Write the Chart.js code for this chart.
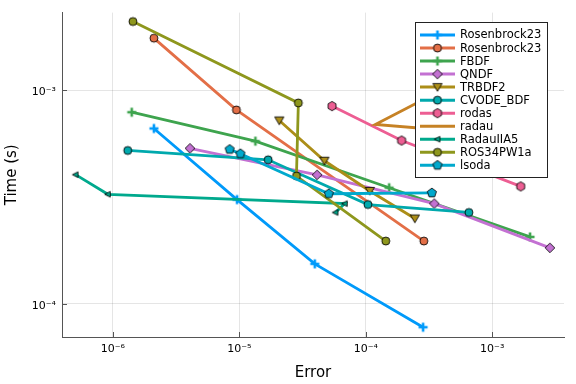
<!DOCTYPE html>
<html>
<head>
<meta charset="utf-8">
<script src="https://cdn.jsdelivr.net/npm/chart.js@4.4.0/dist/chart.umd.min.js"></script>
<style>
  html, body { margin: 0; padding: 0; background: #fff; }
  canvas { display: block; }
</style>
</head>
<body>
<canvas id="chart" width="576" height="384"></canvas>
<script>
// error vs run time for each solver
const rosenAErr  = [2.11e-6, 9.59e-6, 3.95e-5, 2.84e-4];
const rosenATime = [6.63e-4, 3.08e-4, 1.54e-4, 7.78e-5];
const rosenBErr  = [2.11e-6, 9.48e-6, 2.88e-4];
const rosenBTime = [1.755e-3, 8.1e-4, 1.97e-4];
const fbdfErr    = [1.41e-6, 1.34e-5, 1.53e-4, 1.99e-3];
const fbdfTime   = [7.9e-4, 5.78e-4, 3.5e-4, 2.06e-4];
const qndfErr    = [4.07e-6, 4.12e-5, 3.48e-4, 2.86e-3];
const qndfTime   = [5.35e-4, 4.02e-4, 2.95e-4, 1.83e-4];
const trbdfErr   = [2.07e-5, 4.71e-5, 1.076e-4, 2.445e-4];
const trbdfTime  = [7.22e-4, 4.68e-4, 3.38e-4, 2.51e-4];
const cvodeErr   = [1.31e-6, 1.69e-5, 1.04e-4, 6.54e-4];
const cvodeTime  = [5.23e-4, 4.73e-4, 2.92e-4, 2.68e-4];
const rodasErr   = [5.41e-5, 1.92e-4, 1.68e-3];
const rodasTime  = [8.44e-4, 5.82e-4, 3.55e-4];
const radauErr   = [4.22e-4, 1.19e-4, 5.07e-4];
const radauTime  = [1.02e-3, 6.92e-4, 6.45e-4];
const iia5Err    = [5.07e-7, 9.13e-7, 6.82e-5, 5.76e-5];
const iia5Time   = [4.03e-4, 3.26e-4, 2.95e-4, 2.68e-4];
const ros34Err   = [1.44e-6, 2.93e-5, 2.83e-5, 1.44e-4];
const ros34Time  = [2.10e-3, 8.73e-4, 3.97e-4, 1.97e-4];
const lsodaErr   = [8.39e-6, 1.02e-5, 5.1e-5, 3.33e-4];
const lsodaTime  = [5.29e-4, 5.05e-4, 3.28e-4, 3.31e-4];

const seriesNames = ['Rosenbrock23', 'Rosenbrock23', 'FBDF', 'QNDF', 'TRBDF2', 'CVODE_BDF',
                     'rodas', 'radau', 'RadauIIA5', 'ROS34PW1a', 'lsoda'];
const seriesErr  = [rosenAErr, rosenBErr, fbdfErr, qndfErr, trbdfErr, cvodeErr,
                    rodasErr, radauErr, iia5Err, ros34Err, lsodaErr];
const seriesTime = [rosenATime, rosenBTime, fbdfTime, qndfTime, trbdfTime, cvodeTime,
                    rodasTime, radauTime, iia5Time, ros34Time, lsodaTime];

const xTickVals   = [1e-6, 1e-5, 1e-4, 1e-3];
const xTickLabels = ['10\u207B\u2076', '10\u207B\u2075', '10\u207B\u2074', '10\u207B\u00B3'];
const yTickVals   = [1e-4, 1e-3];
const yTickLabels = ['10\u207B\u2074', '10\u207B\u00B3'];

// styles
const colors  = ['#009AFA', '#E36F47', '#3EA44E', '#C371D2', '#AC8E18', '#00A9AD',
                 '#ED5E93', '#C68225', '#00A98D', '#8E971D', '#00A9CD'];
const markers = ['cross', 'circle', 'cross', 'diamond', 'dtri', 'circle',
                 'hexagon', 'none', 'ltri', 'circle', 'pentagon'];

function polygon(g, n, r, start) {
    for (let i = 0; i < n; i++) {
        const a = start + i * 2 * Math.PI / n;
        const px = r * Math.cos(a), py = r * Math.sin(a);
        if (i === 0) g.moveTo(px, py); else g.lineTo(px, py);
    }
}

// little canvases used as point styles
function makeMarker(kind, color) {
    const c = document.createElement('canvas');
    c.width = 14; c.height = 14;
    const g = c.getContext('2d');
    g.translate(7, 7);
    g.fillStyle = color;
    g.strokeStyle = 'rgba(0,0,0,0.85)';
    g.lineWidth = 1;
    g.beginPath();
    if (kind === 'cross') {
        g.strokeStyle = color;
        g.lineWidth = 2.6;
        g.moveTo(-4.5, 0); g.lineTo(4.5, 0);
        g.moveTo(0, -4.5); g.lineTo(0, 4.5);
        g.stroke();
        return c;
    }
    if (kind === 'circle') {
        g.arc(0, 0, 4, 0, Math.PI * 2);
    } else if (kind === 'diamond') {
        g.moveTo(0, -4.8); g.lineTo(4.8, 0); g.lineTo(0, 4.8); g.lineTo(-4.8, 0);
    } else if (kind === 'dtri') {
        g.moveTo(-4.6, -3.6); g.lineTo(4.6, -3.6); g.lineTo(0, 4.2);
    } else if (kind === 'ltri') {
        g.moveTo(-3.2, 0); g.lineTo(2.4, -2.8); g.lineTo(2.4, 2.8);
    } else if (kind === 'hexagon') {
        polygon(g, 6, 4.6, -Math.PI / 2);
    } else if (kind === 'pentagon') {
        polygon(g, 5, 4.8, -Math.PI / 2);
    }
    g.closePath();
    g.fill();
    g.stroke();
    return c;
}

const markerImgs = markers.map((m, i) => m === 'none' ? null : makeMarker(m, colors[i]));

const datasets = seriesNames.map((name, i) => ({
    label: name,
    data: seriesErr[i].map((e, k) => ({ x: e, y: seriesTime[i][k] })),
    borderColor: colors[i],
    backgroundColor: colors[i],
    borderWidth: 2.8,
    pointStyle: markerImgs[i] || 'circle',
    pointRadius: markerImgs[i] ? 5 : 0,
    tension: 0,
    order: seriesNames.length - i
}));

const axisColor = '#555';

// inward tick marks
const tickMarks = {
    id: 'tickMarks',
    beforeDatasetsDraw(chart) {
        const { ctx, chartArea, scales } = chart;
        ctx.save();
        ctx.strokeStyle = axisColor;
        ctx.lineWidth = 1;
        ctx.beginPath();
        xTickVals.forEach(v => {
            const px = Math.round(scales.x.getPixelForValue(v)) + 0.5;
            ctx.moveTo(px, chartArea.bottom);
            ctx.lineTo(px, chartArea.bottom - 5);
        });
        yTickVals.forEach(v => {
            const py = Math.round(scales.y.getPixelForValue(v)) + 0.5;
            ctx.moveTo(chartArea.left, py);
            ctx.lineTo(chartArea.left + 5, py);
        });
        ctx.stroke();
        ctx.restore();
    }
};

// legend box drawn over the plot, like Plots.jl
const boxLegend = {
    id: 'boxLegend',
    afterDraw(chart) {
        const ctx = chart.ctx;
        const left = 415.5, top = 22.5, w = 132, h = 155, step = 13.03;
        ctx.save();
        ctx.fillStyle = '#fff';
        ctx.fillRect(left, top, w, h);
        ctx.strokeStyle = '#222';
        ctx.lineWidth = 1;
        ctx.strokeRect(left, top, w, h);
        ctx.font = '11.5px "DejaVu Sans"';
        ctx.textBaseline = 'middle';
        ctx.fillStyle = '#000';
        seriesNames.forEach((name, i) => {
            const y = 35 + i * step;
            ctx.strokeStyle = colors[i];
            ctx.lineWidth = 3;
            ctx.beginPath();
            ctx.moveTo(420, y);
            ctx.lineTo(455, y);
            ctx.stroke();
            if (markerImgs[i]) ctx.drawImage(markerImgs[i], 437.5 - 7, y - 7);
            ctx.fillText(name, 460, y + 0.5);
        });
        ctx.restore();
    }
};

Chart.defaults.font.family = '"DejaVu Sans"';
Chart.defaults.color = '#000';

const ctx = document.getElementById('chart').getContext('2d');
const chart = new Chart(ctx, {
    type: 'line',
    data: { datasets: datasets },
    options: {
        responsive: false,
        animation: false,
        events: [],
        layout: { padding: { left: 0, right: 12, top: 12, bottom: 0 } },
        plugins: {
            legend: { display: false },
            tooltip: { enabled: false }
        },
        scales: {
            x: {
                type: 'logarithmic',
                position: 'bottom',
                min: 3.96e-7,
                max: 3.695e-3,
                afterBuildTicks: s => { s.ticks = xTickVals.map(v => ({ value: v })); },
                afterFit: s => { s.height = 47; },
                grid: { color: 'rgba(0,0,0,0.1)', lineWidth: 1, drawTicks: false },
                border: { display: true, color: axisColor, width: 1 },
                ticks: {
                    autoSkip: false,
                    maxRotation: 0,
                    padding: 6,
                    font: { size: 11 },
                    color: '#000',
                    callback: (v, i) => xTickLabels[i]
                },
                title: {
                    display: true,
                    text: 'Error',
                    font: { size: 15 },
                    padding: { top: 0, bottom: 2 }
                }
            },
            y: {
                type: 'logarithmic',
                position: 'left',
                min: 7.04e-5,
                max: 2.312e-3,
                afterBuildTicks: s => { s.ticks = yTickVals.map(v => ({ value: v })); },
                afterFit: s => { s.width = 62; },
                grid: { color: 'rgba(0,0,0,0.1)', lineWidth: 1, drawTicks: false },
                border: { display: true, color: axisColor, width: 1 },
                ticks: {
                    autoSkip: false,
                    padding: 6,
                    labelOffset: 2,
                    font: { size: 11 },
                    color: '#000',
                    callback: (v, i) => yTickLabels[i]
                },
                title: {
                    display: true,
                    text: 'Time (s)',
                    font: { size: 15 },
                    padding: { top: 3, bottom: 0 }
                }
            }
        }
    },
    plugins: [tickMarks, boxLegend]
});
</script>
</body>
</html>
